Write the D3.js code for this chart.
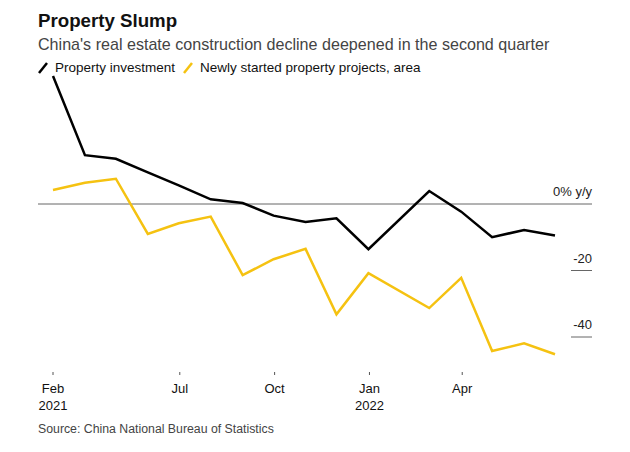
<!DOCTYPE html>
<html><head><meta charset="utf-8">
<script src="https://cdn.jsdelivr.net/npm/d3@7"></script>
<style>
body{margin:0;background:#fff;}
text{font-family:"Liberation Sans",Arial,sans-serif;}
</style></head>
<body><svg id="c" width="630" height="452"></svg>
<script>
const months = ["2021-02","2021-03","2021-04","2021-05","2021-06","2021-07","2021-08","2021-09","2021-10","2021-11","2021-12","2022-02","2022-03","2022-04","2022-05","2022-06"];
const investment = [38.5,14.7,13.6,9.5,5.6,1.4,0.3,-3.5,-5.4,-4.3,-13.6,3.9,-2.3,-10.0,-7.8,-9.5];
const newStarts = [4.2,6.4,7.6,-9.0,-5.8,-3.8,-21.4,-16.6,-13.5,-33.2,-20.8,-31.3,-22.2,-44.2,-41.9,-45.2];
const yTicks = [0,-20,-40];
const xTickDates = ["2021-02-28","2021-07-01","2021-10-01","2022-01-01","2022-04-01"];
const xTickLabels = [["Feb","2021"],["Jul"],["Oct"],["Jan","2022"],["Apr"]];

const parse = d3.timeParse("%Y-%m");
// monthly data plotted at month end
const dates = months.map(m => { const d = parse(m); return new Date(d.getFullYear(), d.getMonth()+1, 0); });
const svg = d3.select("#c");
const x = d3.scaleTime().domain([new Date(2021,1,28), new Date(2022,5,30)]).range([53,555]);
const y = d3.scaleLinear().domain([-40,0]).range([337,204]);
const YELLOW = "#f5c211";

// titles
svg.append("text").attr("x",38).attr("y",27).attr("font-size",18.7).attr("font-weight","bold").attr("fill","#111").text("Property Slump");
svg.append("text").attr("x",38).attr("y",50).attr("font-size",16.1).attr("fill","#444").text("China's real estate construction decline deepened in the second quarter");

// legend
const lg = svg.append("g");
lg.append("line").attr("x1",39).attr("y1",73).attr("x2",47).attr("y2",63).attr("stroke","#000").attr("stroke-width",2.5);
lg.append("text").attr("x",55).attr("y",72).attr("font-size",13.5).attr("fill","#111").text("Property investment");
lg.append("line").attr("x1",184).attr("y1",73).attr("x2",192).attr("y2",63).attr("stroke",YELLOW).attr("stroke-width",2.5);
lg.append("text").attr("x",200).attr("y",72).attr("font-size",13.5).attr("fill","#111").text("Newly started property projects, area");

// y grid
yTicks.forEach(t => {
  if (t === 0) {
    svg.append("line").attr("x1",38).attr("x2",592).attr("y1",y(t)).attr("y2",y(t)).attr("stroke","#666").attr("stroke-width",1);
    svg.append("text").attr("x",592).attr("y",y(t)-8).attr("text-anchor","end").attr("font-size",13).attr("fill","#222").text(t+"% y/y");
  } else {
    svg.append("line").attr("x1",571).attr("x2",592).attr("y1",y(t)).attr("y2",y(t)).attr("stroke","#666").attr("stroke-width",1);
    svg.append("text").attr("x",592).attr("y",y(t)-8).attr("text-anchor","end").attr("font-size",13).attr("fill","#222").text(t);
  }
});

// x axis
const tp = d3.timeParse("%Y-%m-%d");
xTickDates.forEach((ds,i) => {
  const xx = x(tp(ds));
  svg.append("line").attr("x1",xx).attr("x2",xx).attr("y1",372).attr("y2",375).attr("stroke","#555").attr("stroke-width",1);
  xTickLabels[i].forEach((l,j) => {
    svg.append("text").attr("x",xx).attr("y",393+j*17).attr("text-anchor","middle").attr("font-size",13).attr("fill","#111").text(l);
  });
});

// lines
const line = d3.line().x((d,i)=>x(dates[i])).y(d=>y(d));
svg.append("path").datum(newStarts).attr("d",line).attr("fill","none").attr("stroke",YELLOW).attr("stroke-width",2.5).attr("stroke-linejoin","miter");
svg.append("path").datum(investment).attr("d",line).attr("fill","none").attr("stroke","#000").attr("stroke-width",2.5).attr("stroke-linejoin","miter");

// source
svg.append("text").attr("x",38).attr("y",433).attr("font-size",12.3).attr("fill","#444").text("Source: China National Bureau of Statistics");
</script></body></html>
